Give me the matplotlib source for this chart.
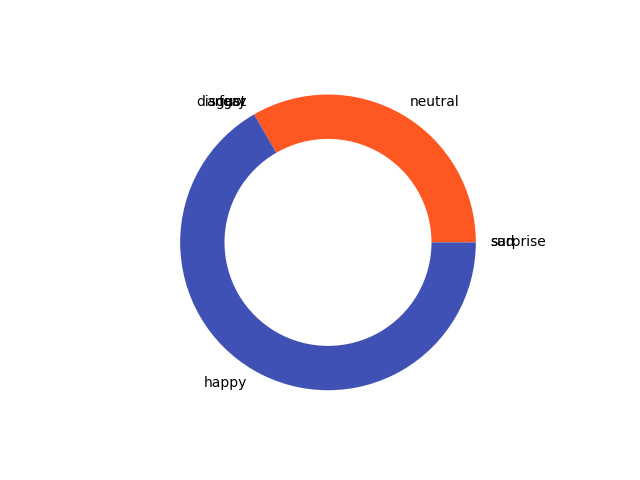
import matplotlib
matplotlib.use("Agg")
import matplotlib.pyplot as plt

# emotion counts
emotions = ['sad', 'surprise', 'neutral', 'angry', 'disgust', 'fear', 'happy']
counts = [0, 0, 1, 0, 0, 0, 2]
colors = ['#9C27B0', '#FFC107', '#FF5722', '#F44336', '#4CAF50', '#607D8B', '#3F51B5']

fig = plt.figure(figsize=(6.4, 4.8), dpi=100)
ax = fig.add_subplot(111)
ax.pie(counts, labels=emotions, colors=colors, wedgeprops=dict(width=0.3))
fig.savefig("out.png")
